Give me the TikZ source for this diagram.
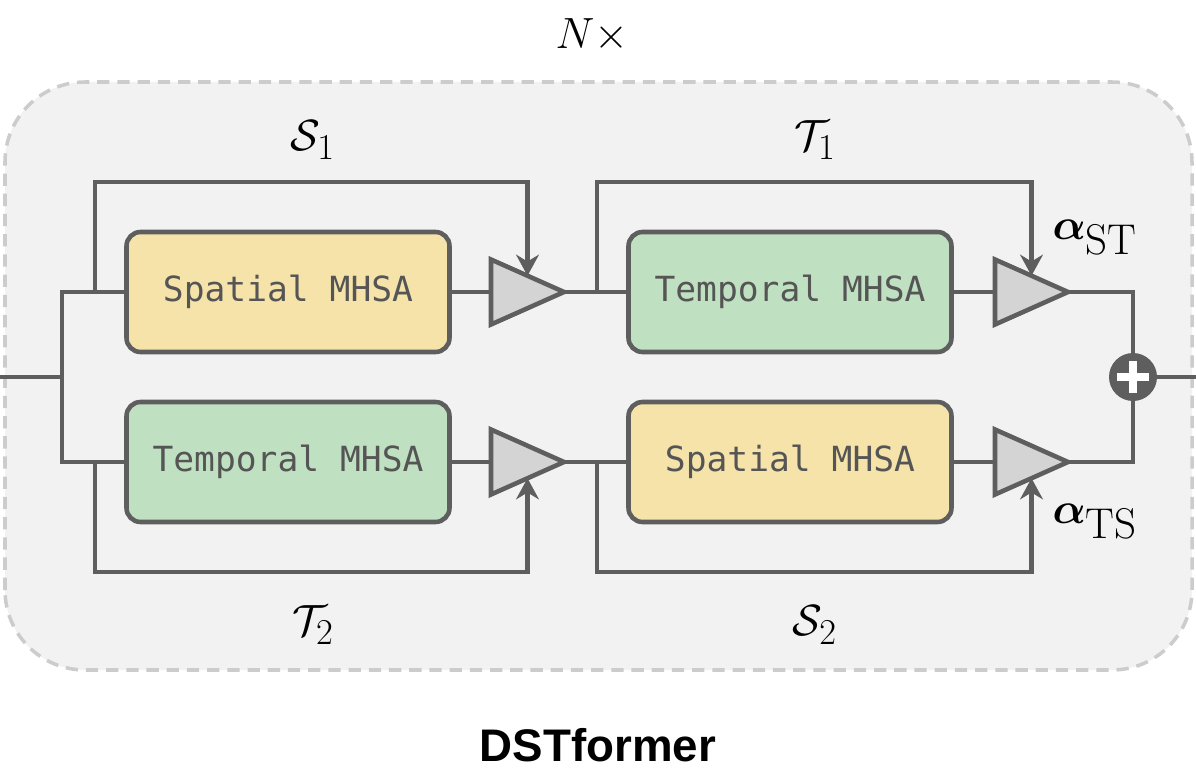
\documentclass[tikz,border=0pt]{standalone}
\usepackage{fontspec}
\setmonofont{DejaVu Sans Mono}
\setsansfont{Liberation Sans}
\usepackage{amsmath,amssymb,bm}
\usetikzlibrary{arrows.meta,positioning,calc}
\definecolor{linegray}{HTML}{5E5E5E}
\definecolor{textgray}{HTML}{555555}
\definecolor{spatfill}{HTML}{F5E3A9}
\definecolor{tempfill}{HTML}{BFE0C1}
\definecolor{gatefill}{HTML}{D4D4D4}
\definecolor{bgfill}{HTML}{F2F2F2}
\definecolor{bgline}{HTML}{CCCCCC}
\tikzset{wire/.style={draw=linegray, line width=2.6pt}}
\tikzset{arr/.style={wire, -{Stealth[length=12pt, width=13pt]}}}
\tikzset{mhsa/.style={rounded corners=8pt, draw=linegray, line width=2.6pt, minimum width=6.46cm, minimum height=2.4cm, text=textgray, font=\fontsize{19.7}{22}\selectfont\ttfamily}}
\tikzset{spat/.style={mhsa, fill=spatfill}}
\tikzset{temp/.style={mhsa, fill=tempfill}}
\tikzset{lbl/.style={font=\fontsize{28}{32}\selectfont}}
\tikzset{wlbl/.style={font=\fontsize{35}{40}\selectfont}}
\tikzset{addnode/.style={circle, fill=linegray, minimum size=0.96cm, inner sep=0pt,
    path picture={\draw[white, line width=4pt] ($(path picture bounding box.center)+(-0.32,0)$) -- ++(0.64,0);
                  \draw[white, line width=4pt] ($(path picture bounding box.center)+(0,-0.32)$) -- ++(0,0.64);}}}
\newcommand\gate[3]{
		\coordinate (#1-in) at (#2,#3);
		\coordinate (#1-out) at ($(#2,#3)+(1.46,0)$);
		\coordinate (#1-up) at ($(#2,#3)+(0.73,0.325)$);
		\coordinate (#1-dn) at ($(#2,#3)+(0.73,-0.325)$);
		\draw[wire, fill=gatefill, line join=miter] ($(#2,#3)+(0,0.65)$) -- (#1-out) -- ($(#2,#3)+(0,-0.65)$) -- cycle;
	}

\begin{document}
\begin{tikzpicture}
    \useasboundingbox (0,0) rectangle (23.92,15.4);
    \draw[bgline, fill=bgfill, line width=2pt, dash pattern=on 7pt off 4.5pt, rounded corners=1.6cm] (0.1,2.0) rectangle (23.84,13.76);

    \coordinate (in) at (0,7.86);
    \coordinate (split) at (1.24,7.86);
    \coordinate (s1) at (1.9,9.56);
    \coordinate (s1top) at (1.9,11.76);
    \coordinate (t2) at (1.9,6.16);
    \coordinate (t2bot) at (1.9,3.96);
    \coordinate (t1) at (11.94,9.56);
    \coordinate (t1top) at (11.94,11.76);
    \coordinate (s2) at (11.94,6.16);
    \coordinate (s2bot) at (11.94,3.96);
    \coordinate (out) at (23.92,7.86);

    \node[spat] (sp1) at (5.76,9.56) {Spatial MHSA};
    \node[temp] (tp1) at (15.8,9.56) {Temporal MHSA};
    \node[temp] (tp2) at (5.76,6.16) {Temporal MHSA};
    \node[spat] (sp2) at (15.8,6.16) {Spatial MHSA};
    \node[addnode] (plus) at (22.66,7.86) {};

    \gate{g1}{9.82}{9.56}
    \gate{g2}{9.82}{6.16}
    \gate{g3}{19.9}{9.56}
    \gate{g4}{19.9}{6.16}

    \draw[wire] (in) -- (split);
    \draw[wire] (sp1.west) -| (split) |- (tp2.west);
    \draw[wire] (sp1) -- (g1-in);
    \draw[wire] (tp2) -- (g2-in);
    \draw[wire] (g1-out) -- (tp1);
    \draw[wire] (g2-out) -- (sp2);
    \draw[wire] (tp1) -- (g3-in);
    \draw[wire] (sp2) -- (g4-in);
    \draw[arr] (s1) -- (s1top) -| (g1-up);
    \draw[arr] (t2) -- (t2bot) -| (g2-dn);
    \draw[arr] (t1) -- (t1top) -| (g3-up);
    \draw[arr] (s2) -- (s2bot) -| (g4-dn);

    \draw[wire] (g3-out) -| (plus);
    \draw[wire] (g4-out) -| (plus);
    \draw[wire] (plus) -- (out);

    \node[lbl] (lS1) at (6.26,12.6) {$\mathcal{S}_1$};
    \node[lbl] (lT1) at (16.3,12.6) {$\mathcal{T}_1$};
    \node[lbl] (lT2) at (6.26,2.9) {$\mathcal{T}_2$};
    \node[lbl] (lS2) at (16.3,2.9) {$\mathcal{S}_2$};
    \node[wlbl] (aST) at (21.9,10.64) {$\bm{\alpha}_{\mathrm{ST}}$};
    \node[wlbl] (aTS) at (21.9,4.96) {$\bm{\alpha}_{\mathrm{TS}}$};
    \node[font=\fontsize{27}{32}\selectfont] (rep) at (11.84,14.7) {$N\times$};
    \node[font=\fontsize{26}{30}\selectfont\sffamily\bfseries] (title) at (11.96,0.5) {DSTformer};
\end{tikzpicture}
\end{document}
